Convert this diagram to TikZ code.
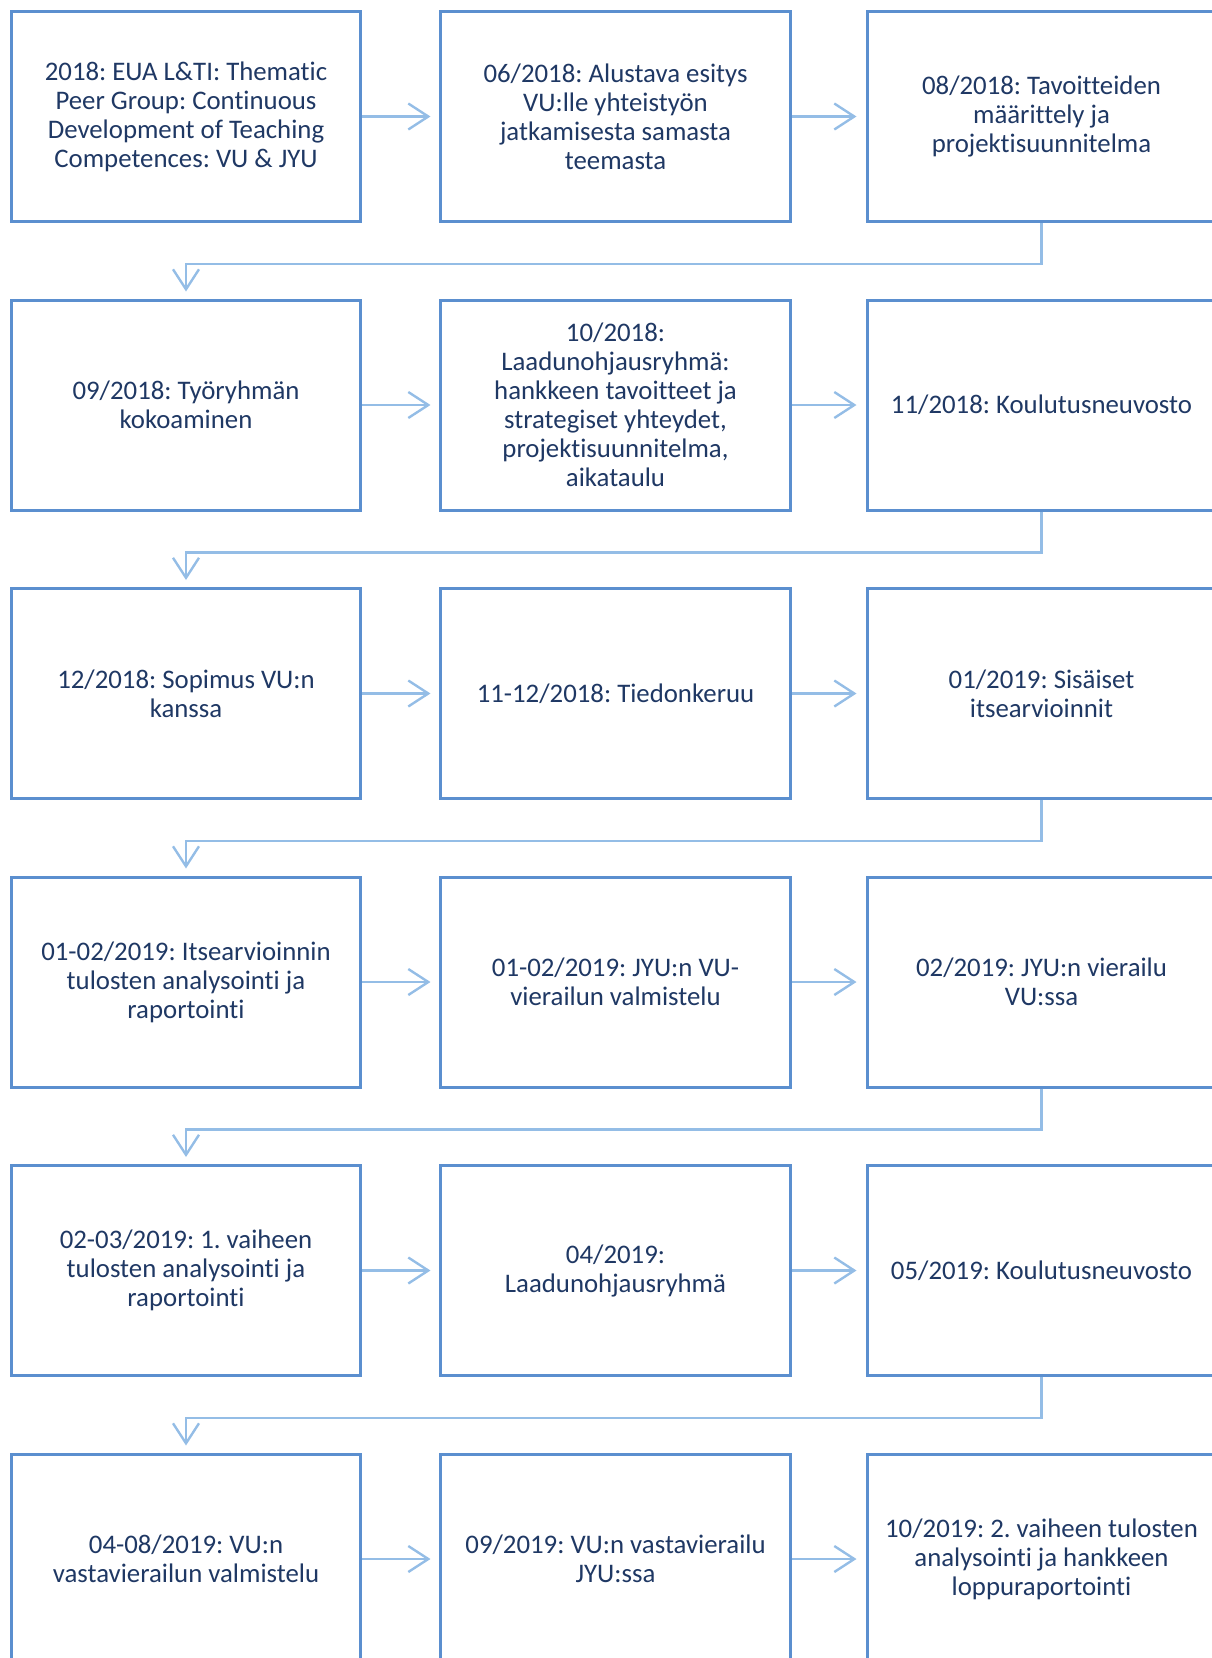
\documentclass[tikz,border=0pt]{standalone}
\usepackage{fontspec}
\setmainfont[Ligatures=NoCommon]{Carlito}
\usetikzlibrary{arrows.meta}
\definecolor{boxblue}{HTML}{5B8FCF}
\definecolor{arrowblue}{HTML}{94BDE6}
\definecolor{txtnavy}{HTML}{1F3864}
\tikzset{
  stepbox/.style={draw=boxblue, line width=1.5bp, fill=white, minimum width=174.5bp, minimum height=105bp,
    align=center, inner sep=0pt, text=txtnavy, font=\fontsize{13.4bp}{14.5bp}\selectfont\frenchspacing},
  flowarrow/.style={draw=arrowblue, line width=1.2bp, -{Straight Barb[length=10bp,width=13bp,line width=1.2bp]}},
}
\begin{document}
\begin{tikzpicture}[x=0.5bp,y=-0.5bp]
\useasboundingbox (0,0) rectangle (1212,1658);
\clip (0,0) rectangle (1212,1658);
% rows: centers at 116.5 + 288.5 i
\node[stepbox] (a1) at (186,116.5) {2018: EUA L\&TI: Thematic\\Peer Group: Continuous\\Development of Teaching\\Competences: VU \& JYU};
\node[stepbox] (a2) at (615.5,116.5) {06/2018: Alustava esitys\\VU:lle yhteistyön\\jatkamisesta samasta\\teemasta};
\node[stepbox] (a3) at (1041.5,116.5) {08/2018: Tavoitteiden\\määrittely ja\\projektisuunnitelma};

\node[stepbox] (b1) at (186,405) {09/2018: Työryhmän\\kokoaminen};
\node[stepbox] (b2) at (615.5,405) {10/2018:\\Laadunohjausryhmä:\\hankkeen tavoitteet ja\\strategiset yhteydet,\\projektisuunnitelma,\\aikataulu};
\node[stepbox] (b3) at (1041.5,405) {11/2018: Koulutusneuvosto};

\node[stepbox] (c1) at (186,693.5) {12/2018: Sopimus VU:n\\kanssa};
\node[stepbox] (c2) at (615.5,693.5) {11-12/2018: Tiedonkeruu};
\node[stepbox] (c3) at (1041.5,693.5) {01/2019: Sisäiset\\itsearvioinnit};

\node[stepbox] (d1) at (186,982) {01-02/2019: Itsearvioinnin\\tulosten analysointi ja\\raportointi};
\node[stepbox] (d2) at (615.5,982) {01-02/2019: JYU:n VU-\\vierailun valmistelu};
\node[stepbox] (d3) at (1041.5,982) {02/2019: JYU:n vierailu\\VU:ssa};

\node[stepbox] (e1) at (186,1270.5) {02-03/2019: 1. vaiheen\\tulosten analysointi ja\\raportointi};
\node[stepbox] (e2) at (615.5,1270.5) {04/2019:\\Laadunohjausryhmä};
\node[stepbox] (e3) at (1041.5,1270.5) {05/2019: Koulutusneuvosto};

\node[stepbox] (f1) at (186,1559) {04-08/2019: VU:n\\vastavierailun valmistelu};
\node[stepbox] (f2) at (615.5,1559) {09/2019: VU:n vastavierailu\\JYU:ssa};
\node[stepbox] (f3) at (1041.5,1559) {10/2019: 2. vaiheen tulosten\\analysointi ja hankkeen\\loppuraportointi};

% horizontal arrows
\foreach \r in {a,b,c,d,e,f}{
  \draw[flowarrow, shorten >=4.5bp] (\r1.east) -- (\r2.west);
  \draw[flowarrow, shorten >=4.5bp] (\r2.east) -- (\r3.west);
}
% row-to-row elbow connectors
\foreach \u/\v in {a/b,b/c,c/d,d/e,e/f}{
  \draw[flowarrow, shorten >=3.5bp] (\u3.south) -- ++(0,41) -| (\v1.north);
}
\end{tikzpicture}
\end{document}
